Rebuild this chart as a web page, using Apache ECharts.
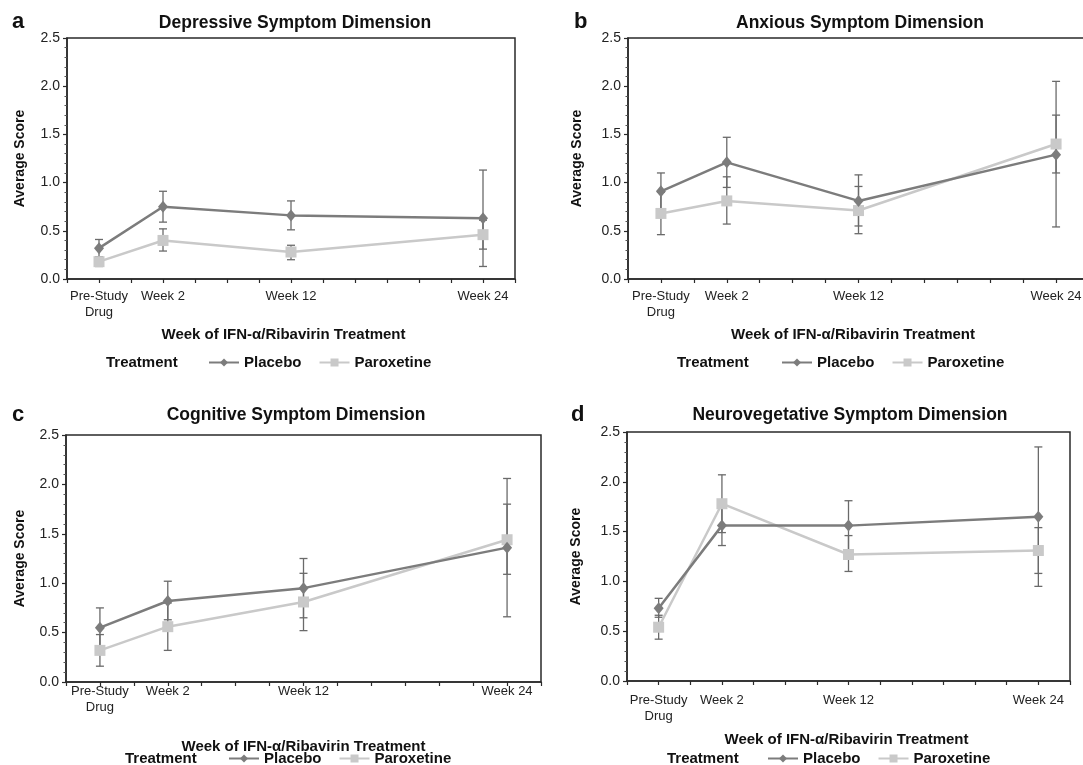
<!DOCTYPE html>
<html>
<head>
<meta charset="utf-8">
<script src="https://cdn.jsdelivr.net/npm/echarts@6/dist/echarts.min.js"></script>
<style>
html,body{margin:0;padding:0;background:#fff;}
#chart{width:1083px;height:765px;}
</style>
</head>
<body>
<div id="chart"></div>
<script>
// ---- data ----
var categories = ['Pre-Study\nDrug', 'Week 2', 'Week 12', 'Week 24'];
var catPos = [1, 3, 7, 13];
var yTicks = [0, 0.5, 1.0, 1.5, 2.0, 2.5];
var panelTitles = ['Depressive Symptom Dimension', 'Anxious Symptom Dimension', 'Cognitive Symptom Dimension', 'Neurovegetative Symptom Dimension'];
var panelLetters = ['a', 'b', 'c', 'd'];
var seriesNames = ['Placebo', 'Paroxetine'];

// a: Depressive
var placeboA = [0.32, 0.75, 0.66, 0.63];
var placeboA_lo = [0.23, 0.59, 0.51, 0.13];
var placeboA_hi = [0.41, 0.91, 0.81, 1.13];
var paroxA = [0.18, 0.40, 0.28, 0.46];
var paroxA_lo = [0.13, 0.29, 0.20, 0.31];
var paroxA_hi = [0.23, 0.52, 0.35, 0.61];
// b: Anxious
var placeboB = [0.91, 1.21, 0.81, 1.29];
var placeboB_lo = [0.71, 0.95, 0.55, 0.54];
var placeboB_hi = [1.10, 1.47, 1.08, 2.05];
var paroxB = [0.68, 0.81, 0.71, 1.40];
var paroxB_lo = [0.46, 0.57, 0.47, 1.10];
var paroxB_hi = [0.90, 1.06, 0.96, 1.70];
// c: Cognitive
var placeboC = [0.55, 0.82, 0.95, 1.36];
var placeboC_lo = [0.36, 0.63, 0.65, 0.66];
var placeboC_hi = [0.75, 1.02, 1.25, 2.06];
var paroxC = [0.32, 0.56, 0.81, 1.44];
var paroxC_lo = [0.16, 0.32, 0.52, 1.09];
var paroxC_hi = [0.48, 0.80, 1.10, 1.80];
// d: Neurovegetative
var placeboD = [0.73, 1.56, 1.56, 1.65];
var placeboD_lo = [0.64, 1.36, 1.31, 0.95];
var placeboD_hi = [0.83, 1.76, 1.81, 2.35];
var paroxD = [0.54, 1.78, 1.27, 1.31];
var paroxD_lo = [0.42, 1.49, 1.10, 1.08];
var paroxD_hi = [0.66, 2.07, 1.46, 1.54];

// ---- layout / style ----
var FONT = '"Liberation Sans", Arial, sans-serif';
var C_PLA = '#7c7c7c', C_PAR = '#c9c9c9', C_ERR = '#6a6a6a', C_AX = '#2a2a2a';
var panels = [
  {grid:{left:67, top:38, width:448, height:241}, labMargin:9, nameGap:48, nameShift:15, yNameGap:40, legendLeft:208, legendTop:355, treatX:106, treatY:355, letterX:12, letterY:11, titleX:295, titleY:14,
   pla:placeboA, plaLo:placeboA_lo, plaHi:placeboA_hi, par:paroxA, parLo:paroxA_lo, parHi:paroxA_hi},
  {grid:{left:628, top:38, width:461, height:241}, labMargin:9, nameGap:48, nameShift:11, yNameGap:44, legendLeft:781, legendTop:355, treatX:677, treatY:355, letterX:574, letterY:11, titleX:860, titleY:14,
   pla:placeboB, plaLo:placeboB_lo, plaHi:placeboB_hi, par:paroxB, parLo:paroxB_lo, parHi:paroxB_hi},
  {grid:{left:66, top:435, width:475, height:247}, labMargin:1, nameGap:57, nameShift:0, yNameGap:39, legendLeft:228, legendTop:751, treatX:125, treatY:751, letterX:12, letterY:404, titleX:296, titleY:406,
   pla:placeboC, plaLo:placeboC_lo, plaHi:placeboC_hi, par:paroxC, parLo:paroxC_lo, parHi:paroxC_hi},
  {grid:{left:627, top:432, width:443, height:249}, labMargin:11, nameGap:51, nameShift:4, yNameGap:44, legendLeft:767, legendTop:751, treatX:667, treatY:751, letterX:571, letterY:404, titleX:850, titleY:406,
   pla:placeboD, plaLo:placeboD_lo, plaHi:placeboD_hi, par:paroxD, parLo:paroxD_lo, parHi:paroxD_hi}
];

function pts(vals){ return vals.map(function(v,i){ return [catPos[i], v]; }); }
function errs(lo, hi){ return lo.map(function(v,i){ return [catPos[i], v, hi[i]]; }); }

function errRender(params, api){
  var x = api.value(0), lo = api.value(1), hi = api.value(2);
  var p1 = api.coord([x, lo]), p2 = api.coord([x, hi]);
  var cw = 4;
  var st = {stroke: C_ERR, lineWidth: 1.3};
  return {type:'group', children:[
    {type:'line', shape:{x1:p1[0], y1:p1[1], x2:p2[0], y2:p2[1]}, style:st},
    {type:'line', shape:{x1:p1[0]-cw, y1:p1[1], x2:p1[0]+cw, y2:p1[1]}, style:st},
    {type:'line', shape:{x1:p2[0]-cw, y1:p2[1], x2:p2[0]+cw, y2:p2[1]}, style:st}
  ]};
}

var grids = [], xAxes = [], yAxes = [], series = [], titles = [], legends = [];
panels.forEach(function(p, k){
  var g = Object.assign({show:true, borderColor:C_AX, borderWidth:1.5, backgroundColor:'#fff', containLabel:false, outerBoundsMode:'none'}, p.grid);
  grids.push(g);
  xAxes.push({
    type:'value', gridIndex:k, min:0, max:14, interval:1,
    name:'Week of IFN-\u03b1/Ribavirin Treatment', nameLocation:'middle', nameGap:p.nameGap,
    nameTextStyle:{fontFamily:FONT, fontWeight:'bold', fontSize:15, color:'#111', padding:[0, p.nameShift, 0, 0]},
    axisLine:{show:true, lineStyle:{color:C_AX, width:1.5}},
    axisTick:{show:true, length:4, lineStyle:{color:C_AX, width:1.2}},
    splitLine:{show:false},
    axisLabel:{margin:p.labMargin, fontFamily:FONT, fontSize:13, color:'#222', lineHeight:16, showMinLabel:true, showMaxLabel:true,
      formatter:function(v){ var i = catPos.indexOf(v); return i >= 0 ? categories[i] : ''; }}
  });
  yAxes.push({
    type:'value', gridIndex:k, min:yTicks[0], max:yTicks[yTicks.length-1], interval:0.5,
    name:'Average Score', nameLocation:'middle', nameGap:p.yNameGap, nameRotate:90,
    nameTextStyle:{fontFamily:FONT, fontWeight:'bold', fontSize:14, color:'#111'},
    axisLine:{show:true, lineStyle:{color:C_AX, width:1.5}},
    axisTick:{show:true, length:4, lineStyle:{color:C_AX, width:1.2}},
    minorTick:{show:true, splitNumber:5, length:2.5, lineStyle:{color:'#555', width:1}},
    splitLine:{show:false},
    axisLabel:{margin:7, fontFamily:FONT, fontSize:14, color:'#222', formatter:function(v){ return v.toFixed(1); }}
  });
  series.push({type:'custom', name:'err'+k+'a', xAxisIndex:k, yAxisIndex:k, renderItem:errRender, encode:{x:0, y:[1,2]}, data:errs(p.plaLo, p.plaHi), z:1, silent:true});
  series.push({type:'custom', name:'err'+k+'b', xAxisIndex:k, yAxisIndex:k, renderItem:errRender, encode:{x:0, y:[1,2]}, data:errs(p.parLo, p.parHi), z:1, silent:true});
  series.push({type:'line', name:seriesNames[1], xAxisIndex:k, yAxisIndex:k, data:pts(p.par), symbol:'rect', symbolSize:11,
    itemStyle:{color:C_PAR}, lineStyle:{color:C_PAR, width:2.5}, z:2, animation:false});
  series.push({type:'line', name:seriesNames[0], xAxisIndex:k, yAxisIndex:k, data:pts(p.pla), symbol:'diamond', symbolSize:[10,12],
    itemStyle:{color:C_PLA}, lineStyle:{color:C_PLA, width:2.5}, z:3, animation:false});
  titles.push({text:panelLetters[k], left:p.letterX, top:p.letterY, padding:0, textStyle:{fontFamily:FONT, fontWeight:'bold', fontSize:22, color:'#111'}});
  titles.push({text:panelTitles[k], left:p.titleX, top:p.titleY, padding:0, textAlign:'center', textStyle:{fontFamily:FONT, fontWeight:'bold', fontSize:17.5, color:'#111'}});
  titles.push({text:'Treatment', left:p.treatX, top:p.treatY, padding:0, textStyle:{fontFamily:FONT, fontWeight:'bold', fontSize:15, color:'#111'}});
  legends.push({left:p.legendLeft, top:p.legendTop, padding:0, itemGap:17, itemWidth:30, itemHeight:10,
    data:[seriesNames[0], seriesNames[1]],
    textStyle:{fontFamily:FONT, fontWeight:'bold', fontSize:15, color:'#111'}});
});

var chart = echarts.init(document.getElementById('chart'), null, {renderer:'canvas'});
chart.setOption({
  animation:false,
  backgroundColor:'#fff',
  title:titles,
  legend:legends,
  grid:grids,
  xAxis:xAxes,
  yAxis:yAxes,
  series:series
});
</script>
</body>
</html>
